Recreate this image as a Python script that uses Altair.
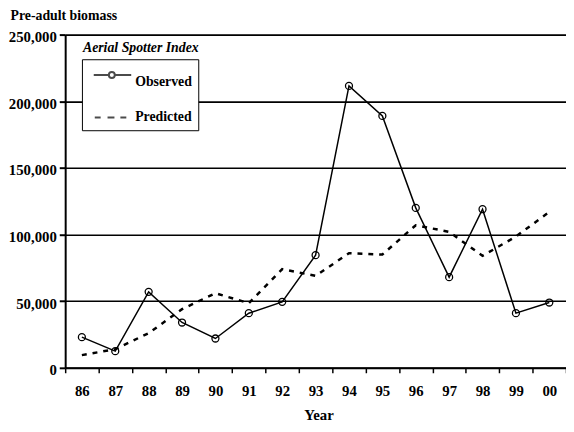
import altair as alt
import pandas as pd

YEARS = ["86", "87", "88", "89", "90", "91", "92", "93", "94", "95", "96", "97", "98", "99", "00"]
OBSERVED = [23000, 12500, 57000, 34000, 22000, 41000, 49500, 84500, 211500, 189000, 120000, 68000, 119000, 41000, 49000]
PREDICTED = [9500, 14000, 26000, 44000, 56000, 48500, 74000, 69000, 86000, 85000, 107000, 102000, 84000, 98500, 117000]
SERIES = ["Observed", "Predicted"]
Y_TICKS = [0, 50000, 100000, 150000, 200000, 250000]

FONT = "Liberation Serif"

obs_df = pd.DataFrame({"year": YEARS, "value": OBSERVED, "series": SERIES[0]})
pred_df = pd.DataFrame({"year": YEARS, "value": PREDICTED, "series": SERIES[1]})
leg_df = pd.DataFrame({"series": SERIES})

x_enc = alt.X(
    "year:O",
    sort=YEARS,
    bandPosition=0.5,
    scale=alt.Scale(type="band", domain=YEARS, paddingInner=0, paddingOuter=0),
    axis=alt.Axis(
        title="Year",
        titleX=257,
        titleY=52,
        titleBaseline="alphabetic",
        titleFont=FONT,
        titleFontSize=15,
        titleFontWeight="bold",
        titleColor="black",
        labelFont=FONT,
        labelFontSize=15,
        labelFontWeight="bold",
        labelColor="black",
        labelAngle=0,
        labelPadding=11,
        tickBand="extent",
        tickSize=5,
        tickWidth=1.5,
        tickColor="black",
        domainColor="black",
        domainWidth=2,
        grid=False,
    ),
)

y_enc = alt.Y(
    "value:Q",
    scale=alt.Scale(domain=[0, 250000], nice=False),
    axis=alt.Axis(
        title="Pre-adult biomass",
        titleAngle=0,
        titleX=-56,
        titleY=-15,
        titleAlign="left",
        titleBaseline="alphabetic",
        titleFont=FONT,
        titleFontSize=14,
        titleFontWeight="bold",
        titleColor="black",
        values=Y_TICKS,
        format=",d",
        labelFont=FONT,
        labelFontSize=15,
        labelFontWeight="bold",
        labelColor="black",
        labelPadding=3,
        labelOffset=2,
        tickSize=6,
        tickWidth=2,
        tickColor="black",
        domainColor="black",
        domainWidth=2,
        grid=True,
        gridColor="black",
        gridWidth=1.6,
    ),
)

obs_line = alt.Chart(obs_df).mark_line(color="black", strokeWidth=1.5).encode(x=x_enc, y=y_enc)
obs_pts = alt.Chart(obs_df).mark_point(
    shape="circle", filled=False, color="black", size=50, strokeWidth=1.3, opacity=1
).encode(x=x_enc, y=y_enc)
pred_line = alt.Chart(pred_df).mark_line(
    color="black", strokeWidth=2.5, strokeDash=[5, 6]
).encode(x=x_enc, y=y_enc)

OBS_SYMBOL = (
    "M-0.29,-1.0H1.9M2.76,-1.0H5.14"
    "M2.76,-1.0A0.43,0.43 0 1 1 1.9,-1.0A0.43,0.43 0 1 1 2.76,-1.0"
)
PRED_SYMBOL = "M-0.14,0H0.71M1.71,0H2.71M3.57,0H4.43"

legend_layer = alt.Chart(leg_df).transform_filter("false").mark_point(
    filled=False, color="black"
).encode(
    shape=alt.Shape(
        "series:N",
        scale=alt.Scale(domain=SERIES, range=[OBS_SYMBOL, PRED_SYMBOL]),
        legend=alt.Legend(
            title=" ",
            titleFontSize=1,
            titlePadding=8,
            orient="none",
            legendX=17,
            legendY=25,
            padding=6,
            rowPadding=21,
            fillColor="white",
            strokeColor="black",
            symbolSize=196,
            symbolStrokeWidth=2,
            symbolStrokeColor="black",
            symbolFillColor="transparent",
            labelFont=FONT,
            labelFontSize=14,
            labelFontWeight="bold",
            labelColor="black",
            labelOffset=32,
            labelExpr="datum.label + '   '",
        ),
    )
)

chart = alt.layer(pred_line, obs_line, obs_pts, legend_layer).properties(
    width=508,
    height=338,
    autosize=alt.AutoSizeParams(type="none"),
    padding={"left": 58, "top": 24, "right": 0, "bottom": 54},
    title=alt.TitleParams(
        text="Aerial Spotter Index",
        anchor="start",
        frame="group",
        offset=0,
        dx=18,
        dy=58,
        baseline="alphabetic",
        font=FONT,
        fontSize=14,
        fontWeight="bold",
        fontStyle="italic",
        color="black",
    ),
).configure_view(stroke=None).configure(background="white")

chart.save("out.html", embed_options={"renderer": "svg", "actions": False})
